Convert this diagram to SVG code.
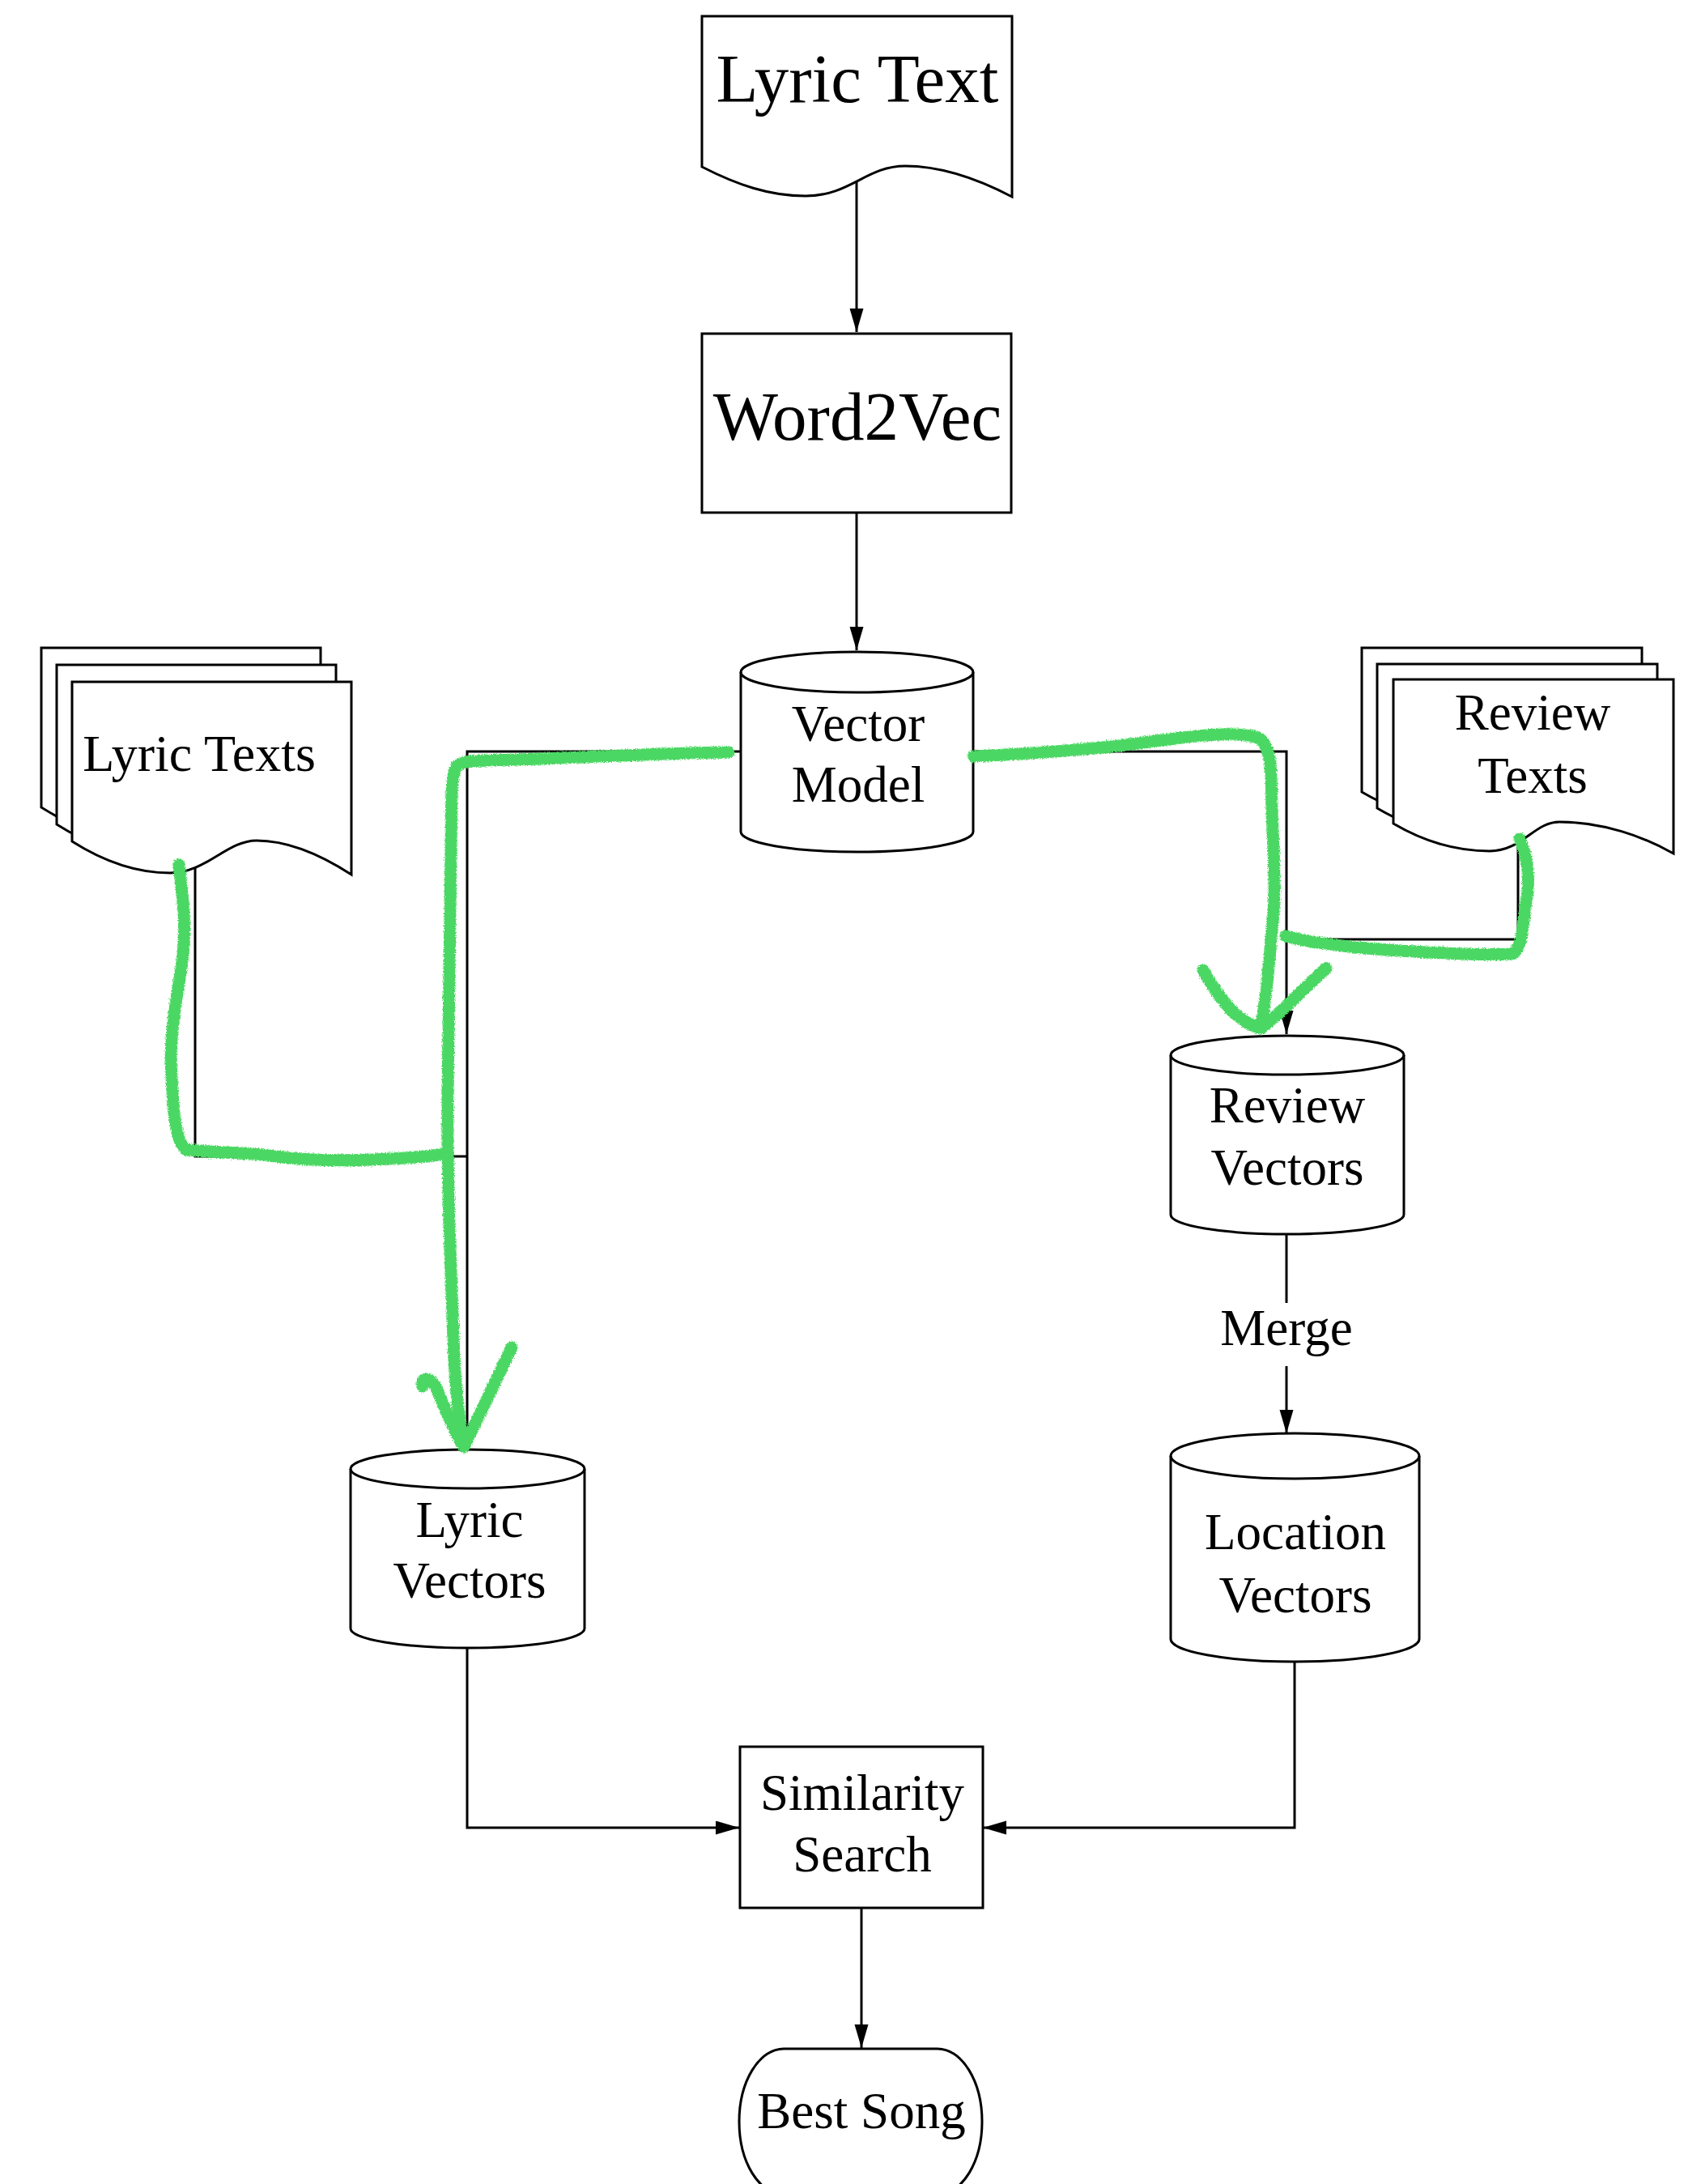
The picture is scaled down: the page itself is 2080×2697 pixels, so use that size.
<svg xmlns="http://www.w3.org/2000/svg" width="2080" height="2697" viewBox="0 0 2080 2697">
<style>
.shape{fill:#fff;stroke:#000;stroke-width:3}
.conn{fill:none;stroke:#000;stroke-width:3}
.lbl{font-family:"Liberation Serif","Times New Roman",serif;fill:#000;text-anchor:middle}
.green{fill:none;stroke:#4cd763;stroke-width:15;stroke-linecap:round;stroke-linejoin:round}
</style>
<defs>
<marker id="arr" markerUnits="userSpaceOnUse" markerWidth="30" markerHeight="18" refX="29" refY="8.5" orient="auto">
<path d="M0,0 L29,8.5 L0,17 Z" fill="#000"/>
</marker>
<filter id="crayon" x="-5%" y="-5%" width="110%" height="110%">
<feTurbulence type="fractalNoise" baseFrequency="0.8" numOctaves="2" seed="3" result="n"/>
<feDisplacementMap in="SourceGraphic" in2="n" scale="5" xChannelSelector="R" yChannelSelector="G"/>
</filter>
<path id="lyricDoc" d="M89,842 H434 V1080 C400,1058 360,1038 317,1038 C280,1038 255,1078 210,1078 C170,1078 130,1065 89,1039 Z"/>
<path id="reviewDoc" d="M1721,839 H2067 V1054 C2030,1033 1980,1015 1926,1015 C1895,1015 1880,1051 1840,1051 C1800,1051 1760,1040 1721,1017 Z"/>
</defs>

<g id="connectors">
<path class="conn" d="M1058,225 V410" marker-end="url(#arr)"/>
<path class="conn" d="M1058,633 V803" marker-end="url(#arr)"/>
<path class="conn" d="M915,928 H577 V1788" marker-end="url(#arr)"/>
<path class="conn" d="M241,1070 V1428 H577"/>
<path class="conn" d="M1202,928 H1589 V1277" marker-end="url(#arr)"/>
<path class="conn" d="M1875,1044 V1160 H1589"/>
<path class="conn" d="M1589,1524 V1609"/>
<path class="conn" d="M1589,1687 V1770" marker-end="url(#arr)"/>
<path class="conn" d="M577,2035 V2257 H913" marker-end="url(#arr)"/>
<path class="conn" d="M1599,2052 V2257 H1214" marker-end="url(#arr)"/>
<path class="conn" d="M1064,2356 V2529" marker-end="url(#arr)"/>
<text class="lbl" x="1589" y="1661" font-size="63">Merge</text>
</g>

<g id="lyric-text">
<path class="shape" d="M867,20 H1250 V243 C1210,222 1165,205 1118,205 C1070,205 1050,242 995,242 C950,242 910,228 867,206 Z"/>
<text class="lbl" x="1059" y="126" font-size="85">Lyric Text</text>
</g>

<g id="word2vec">
<rect class="shape" x="867" y="412" width="382" height="221"/>
<text class="lbl" x="1059" y="543" font-size="85">Word2Vec</text>
</g>

<g id="vector-model">
<path class="shape" d="M915,830 A143.5,25 0 0 1 1202,830 V1027 A143.5,25 0 0 1 915,1027 Z"/>
<path class="conn" d="M915,830 A143.5,25 0 0 0 1202,830"/>
<text class="lbl" x="1060" y="915" font-size="63">Vector</text>
<text class="lbl" x="1060" y="990" font-size="63">Model</text>
</g>

<g id="lyric-texts">
<use href="#lyricDoc" class="shape" transform="translate(-38,-42)"/>
<use href="#lyricDoc" class="shape" transform="translate(-19,-21)"/>
<use href="#lyricDoc" class="shape"/>
<text class="lbl" x="246" y="952" font-size="64">Lyric Texts</text>
</g>

<g id="review-texts">
<use href="#reviewDoc" class="shape" transform="translate(-39,-39)"/>
<use href="#reviewDoc" class="shape" transform="translate(-20,-19)"/>
<use href="#reviewDoc" class="shape"/>
<text class="lbl" x="1893" y="901" font-size="63">Review</text>
<text class="lbl" x="1893" y="979" font-size="63">Texts</text>
</g>

<g id="review-vectors">
<path class="shape" d="M1446,1303 A144,24 0 0 1 1734,1303 V1500 A144,24 0 0 1 1446,1500 Z"/>
<path class="conn" d="M1446,1303 A144,24 0 0 0 1734,1303"/>
<text class="lbl" x="1590" y="1386" font-size="63">Review</text>
<text class="lbl" x="1590" y="1463" font-size="63">Vectors</text>
</g>

<g id="lyric-vectors">
<path class="shape" d="M433,1814 A144.5,24 0 0 1 722,1814 V2011 A144.5,24 0 0 1 433,2011 Z"/>
<path class="conn" d="M433,1814 A144.5,24 0 0 0 722,1814"/>
<text class="lbl" x="580" y="1898" font-size="63">Lyric</text>
<text class="lbl" x="580" y="1973" font-size="63">Vectors</text>
</g>

<g id="location-vectors">
<path class="shape" d="M1446,1798 A153.5,28 0 0 1 1753,1798 V2024 A153.5,28 0 0 1 1446,2024 Z"/>
<path class="conn" d="M1446,1798 A153.5,28 0 0 0 1753,1798"/>
<text class="lbl" x="1600" y="1913" font-size="63">Location</text>
<text class="lbl" x="1600" y="1991" font-size="63">Vectors</text>
</g>

<g id="similarity-search">
<rect class="shape" x="914" y="2157" width="300" height="199"/>
<text class="lbl" x="1065" y="2235" font-size="63">Similarity</text>
<text class="lbl" x="1065" y="2311" font-size="63">Search</text>
</g>

<g id="best-song">
<rect class="shape" x="913" y="2530" width="300" height="180" rx="55" ry="90"/>
<text class="lbl" x="1064" y="2628" font-size="63">Best Song</text>
</g>

<g id="annotations" filter="url(#crayon)">
<path class="green" d="M221,1068 C226,1110 230,1140 226,1180 C220,1230 208,1270 212,1330 C214,1380 218,1410 230,1420 C270,1424 300,1422 340,1428 C400,1436 460,1432 500,1430 C530,1428 545,1426 553,1424"/>
<path class="green" d="M900,929 C820,930 700,936 640,938 C600,939 575,938 565,945 C556,955 558,990 557,1050 C555,1150 554,1250 553,1350 C552,1450 556,1550 560,1650 C562,1720 568,1760 573,1786"/>
<path class="green" d="M522,1712 C520,1700 530,1700 538,1712 C550,1740 562,1770 573,1787 L632,1664"/>
<path class="green" d="M1202,934 C1280,930 1350,926 1420,916 C1480,908 1530,902 1556,912 C1572,925 1570,960 1571,1000 C1573,1060 1577,1100 1570,1160 C1566,1210 1562,1245 1557,1268"/>
<path class="green" d="M1486,1198 C1510,1240 1530,1262 1557,1270 C1590,1245 1610,1220 1638,1196"/>
<path class="green" d="M1877,1036 C1888,1060 1890,1090 1884,1120 C1880,1150 1880,1170 1868,1178 C1820,1180 1760,1176 1700,1172 C1650,1168 1610,1162 1588,1156"/>
</g>
</svg>
